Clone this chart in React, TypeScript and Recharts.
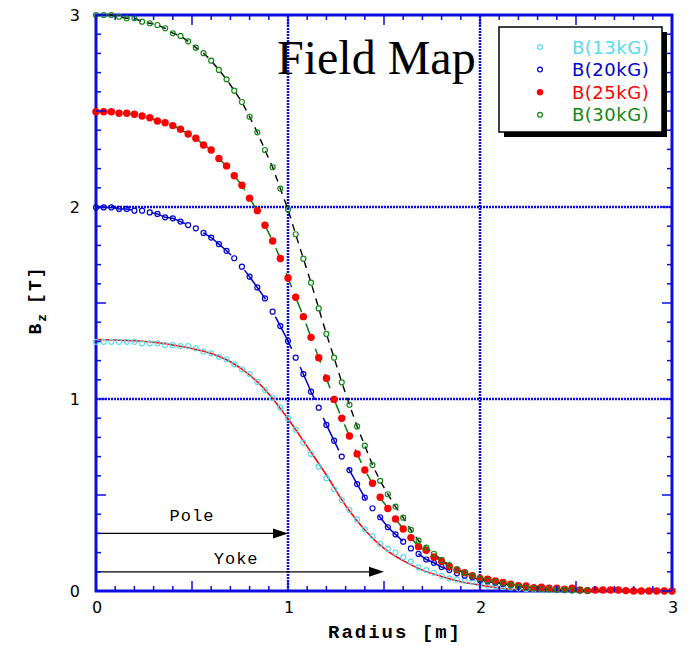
import React from 'react'
import {
	ComposedChart,
	Line,
	Scatter,
	XAxis,
	YAxis,
	ReferenceLine,
	ReferenceArea
} from 'recharts'

// radius grid of the measured points [m]
const R = [
	0, 0.04, 0.08, 0.12, 0.16, 0.2, 0.24, 0.28, 0.32, 0.36, 0.4, 0.44, 0.48, 0.52, 0.56, 0.6, 0.64, 0.68,
	0.72, 0.76, 0.8, 0.84, 0.88, 0.92, 0.96, 1.0, 1.04, 1.08, 1.12, 1.16, 1.2, 1.24, 1.28, 1.32, 1.36, 1.4,
	1.44, 1.48, 1.52, 1.56, 1.6, 1.64, 1.68, 1.72, 1.76, 1.8, 1.84, 1.88, 1.92, 1.96, 2.0, 2.04, 2.08, 2.12,
	2.16, 2.2, 2.24, 2.28, 2.32, 2.36, 2.4, 2.44, 2.48, 2.52, 2.56, 2.6, 2.64, 2.68, 2.72, 2.76, 2.8, 2.84,
	2.88, 2.92, 2.96, 3.0
]

const B13 = [
	1.298, 1.298, 1.298, 1.298, 1.298, 1.298, 1.29, 1.29, 1.29, 1.281, 1.281, 1.276, 1.276, 1.264, 1.247,
	1.238, 1.22, 1.207, 1.181, 1.155, 1.13, 1.089, 1.047, 1.005, 0.955, 0.899, 0.84, 0.773, 0.714, 0.648,
	0.587, 0.53, 0.474, 0.422, 0.373, 0.321, 0.286, 0.245, 0.219, 0.2, 0.176, 0.153, 0.123, 0.109, 0.095,
	0.079, 0.066, 0.06, 0.053, 0.048, 0.04, 0.028, 0.026, 0.021, 0.017, 0.014, 0.011, 0.009, 0.007, 0.005,
	0.004, 0.003, 0.002, 0.002, 0.001
]

const B20 = [
	1.998, 1.998, 1.998, 1.99, 1.99, 1.981, 1.981, 1.972, 1.964, 1.946, 1.941, 1.924, 1.906, 1.889, 1.865,
	1.841, 1.807, 1.772, 1.733, 1.689, 1.637, 1.581, 1.524, 1.455, 1.38, 1.302, 1.215, 1.13, 1.038, 0.955,
	0.865, 0.783, 0.7, 0.63, 0.557, 0.486, 0.431, 0.384, 0.332, 0.295, 0.257, 0.222, 0.193, 0.164, 0.147,
	0.125, 0.109, 0.092, 0.08, 0.071, 0.057, 0.05, 0.043, 0.036, 0.03, 0.025, 0.02, 0.016, 0.013, 0.01,
	0.008, 0.006, 0.005, 0.004, 0.003
]

const B25 = [
	2.496, 2.496, 2.496, 2.488, 2.488, 2.483, 2.474, 2.465, 2.448, 2.439, 2.424, 2.405, 2.38, 2.358, 2.323,
	2.297, 2.253, 2.214, 2.163, 2.113, 2.046, 1.981, 1.905, 1.823, 1.732, 1.63, 1.53, 1.429, 1.321, 1.215,
	1.108, 0.998, 0.9, 0.807, 0.714, 0.63, 0.561, 0.488, 0.43, 0.375, 0.323, 0.278, 0.231, 0.212, 0.177,
	0.155, 0.128, 0.11, 0.095, 0.08, 0.065, 0.062, 0.052, 0.045, 0.036, 0.028, 0.026, 0.017, 0.02, 0.014,
	0.014, 0.01, 0.014, 0.005, 0.002, 0.005, 0.005, 0.005, 0.005, 0.002, 0, 0, 0, 0, 0, 0
]

const B30 = [
	3.0, 3.0, 3.0, 2.991, 2.983, 2.983, 2.965, 2.957, 2.948, 2.931, 2.905, 2.891, 2.863, 2.83, 2.801, 2.762,
	2.714, 2.665, 2.606, 2.547, 2.47, 2.389, 2.297, 2.207, 2.096, 1.987, 1.858, 1.731, 1.606, 1.472, 1.339,
	1.215, 1.087, 0.97, 0.857, 0.757, 0.656, 0.574, 0.504, 0.439, 0.382, 0.318, 0.262, 0.226, 0.194, 0.162,
	0.135, 0.113, 0.095, 0.078, 0.063, 0.054, 0.048, 0.04, 0.031, 0.022, 0.017, 0.014, 0.009, 0.008, 0.007,
	0.006, 0.004, 0.004, 0.003
]

// smooth fit drawn for the 13 kG case
const FIT_R = [
	0, 0.1, 0.2, 0.3, 0.4, 0.5, 0.6, 0.7, 0.8, 0.9, 1.0, 1.1, 1.2, 1.3, 1.4, 1.5, 1.6, 1.7, 1.8, 1.9, 2.0,
	2.1, 2.2, 2.3, 2.4
]
const FIT13 = [
	1.31, 1.307, 1.303, 1.295, 1.281, 1.263, 1.237, 1.194, 1.125, 1.026, 0.897, 0.752, 0.604, 0.445, 0.318,
	0.222, 0.158, 0.109, 0.076, 0.048, 0.031, 0.016, 0.006, 0.002, 0
]

const TICKS = [
	0, 0.1, 0.2, 0.3, 0.4, 0.5, 0.6, 0.7, 0.8, 0.9, 1, 1.1, 1.2, 1.3, 1.4, 1.5, 1.6, 1.7, 1.8, 1.9, 2, 2.1,
	2.2, 2.3, 2.4, 2.5, 2.6, 2.7, 2.8, 2.9, 3
]
const GRID = [1, 2]

const ARROWS = [
	{ name: 'Pole', from: 0, to: 1, at: 0.3, labelAt: 0.5, labelUp: 12 },
	{ name: 'Yoke', from: 0, to: 1.5, at: 0.1, labelAt: 0.73, labelUp: 8 }
]

const LEGEND = [
	{ name: 'B(13kG)', color: '#55dcf0', filled: false },
	{ name: 'B(20kG)', color: '#0000cc', filled: false },
	{ name: 'B(25kG)', color: '#ff0000', filled: true },
	{ name: 'B(30kG)', color: '#118811', filled: false }
]

const W = 693
const H = 646
const PLOT_W = 576
const PLOT_H = 576
const AXIS = '#0c0cdc'

const toPoints = (xs: number[], ys: number[]) => ys.map((b, i) => ({ r: xs[i], b }))

const p13 = toPoints(R, B13)
const p20 = toPoints(R, B20)
const p25 = toPoints(R, B25)
const p30 = toPoints(R, B30)
const fit13 = toPoints(FIT_R, FIT13)

const isMajor = (v: number) => Math.abs(v * 2 - Math.round(v * 2)) < 1e-6
const isInt = (v: number) => Math.abs(v - Math.round(v)) < 1e-6

const XTick = ({ x, y, payload }: any) => {
	const v = payload.value
	const len = isMajor(v) ? 10 : 5
	return (
		<g>
			<line x1={x} x2={x} y1={y} y2={y - len} stroke={AXIS} strokeWidth={1.5} />
			<line x1={x} x2={x} y1={y - PLOT_H} y2={y - PLOT_H + len} stroke={AXIS} strokeWidth={1.5} />
			{isInt(v) && (
				<text x={x + 1} y={y + 22} textAnchor="middle" fontSize={16} fontFamily="DejaVu Sans" fill="#000">
					{Math.round(v)}
				</text>
			)}
		</g>
	)
}

const YTick = ({ x, y, payload }: any) => {
	const v = payload.value
	const len = isMajor(v) ? 10 : 5
	return (
		<g>
			<line x1={x} x2={x + len} y1={y} y2={y} stroke={AXIS} strokeWidth={1.5} />
			<line x1={x + PLOT_W} x2={x + PLOT_W - len} y1={y} y2={y} stroke={AXIS} strokeWidth={1.5} />
			{isInt(v) && (
				<text x={x - 16} y={y + 6} textAnchor="end" fontSize={16} fontFamily="DejaVu Sans" fill="#000">
					{Math.round(v)}
				</text>
			)}
		</g>
	)
}

const openDot = (color: string) => (props: any) => (
	<circle cx={props.cx} cy={props.cy} r={2.5} fill="none" stroke={color} strokeWidth={1.2} />
)
const fullDot = (color: string) => (props: any) => (
	<circle cx={props.cx} cy={props.cy} r={3.7} fill={color} />
)

const arrowShape = (a: (typeof ARROWS)[number]) => (props: any) => {
	const { x1, y1, x2, y2 } = props
	const lx = x1 + ((x2 - x1) * (a.labelAt - a.from)) / (a.to - a.from)
	return (
		<g>
			<line x1={x1} y1={y1} x2={x2 - 12} y2={y2} stroke="#000" strokeWidth={1.2} />
			<polygon points={`${x2},${y2} ${x2 - 15},${y2 - 5} ${x2 - 15},${y2 + 5}`} fill="#000" />
			<text
				x={lx}
				y={y1 - a.labelUp}
				textAnchor="middle"
				fontSize={17}
				fontFamily="Liberation Mono"
				letterSpacing={1}
				fill="#000"
			>
				{a.name}
			</text>
		</g>
	)
}

export default function App() {
	return (
		<div style={{ position: 'absolute', left: 0, top: 0, width: W, height: H, background: '#fff' }}>
			<ComposedChart
				width={W}
				height={H}
				margin={{ top: 15, right: 21, bottom: 25, left: 36 }}
			>
				<XAxis
					dataKey="r"
					type="number"
					domain={[0, 3]}
					ticks={TICKS}
					interval={0}
					height={30}
					tickSize={0}
					tickMargin={0}
					axisLine={false}
					tick={<XTick />}
				/>
				<YAxis
					type="number"
					domain={[0, 3]}
					ticks={TICKS}
					interval={0}
					width={60}
					tickSize={0}
					tickMargin={0}
					axisLine={false}
					tick={<YTick />}
				/>

				{GRID.map((g) => (
					<ReferenceLine key={`x${g}`} x={g} stroke={AXIS} strokeWidth={2.5} strokeDasharray="2 1" />
				))}
				{GRID.map((g) => (
					<ReferenceLine key={`y${g}`} y={g} stroke={AXIS} strokeWidth={2.5} strokeDasharray="2 1" />
				))}
				<ReferenceArea x1={0} x2={3} y1={0} y2={3} fill="none" stroke={AXIS} strokeWidth={3} />

				{ARROWS.map((a) => (
					<ReferenceLine
						key={a.name}
						segment={[
							{ x: a.from, y: a.at },
							{ x: a.to, y: a.at }
						]}
						shape={arrowShape(a)}
					/>
				))}

				<Scatter data={p13} dataKey="b" shape={openDot('#55dcf0')} isAnimationActive={false} />
				<Line
					data={fit13}
					dataKey="b"
					type="monotone"
					stroke="#ff0000"
					strokeWidth={1.5}
					dot={false}
					isAnimationActive={false}
				/>

				<Scatter data={p20} dataKey="b" shape={openDot('#0000cc')} isAnimationActive={false} />
				<Line
					data={p20}
					dataKey="b"
					type="linear"
					stroke="#0000cc"
					strokeWidth={1.5}
					strokeDasharray="36 20"
					dot={false}
					isAnimationActive={false}
				/>

				<Scatter data={p25} dataKey="b" shape={fullDot('#ff0000')} isAnimationActive={false} />
				<Line
					data={p25}
					dataKey="b"
					type="linear"
					stroke="#117711"
					strokeWidth={1.5}
					strokeDasharray="15 12"
					dot={false}
					isAnimationActive={false}
				/>

				<Scatter data={p30} dataKey="b" shape={openDot('#118811')} isAnimationActive={false} />
				<Line
					data={p30}
					dataKey="b"
					type="linear"
					stroke="#000"
					strokeWidth={1.4}
					strokeDasharray="7 6"
					dot={false}
					isAnimationActive={false}
				/>
			</ComposedChart>

			<svg
				width={W}
				height={H}
				style={{ position: 'absolute', left: 0, top: 0, pointerEvents: 'none' }}
			>
				<text x={277} y={74} fontSize={48} fontFamily="Liberation Serif" fill="#000">
					Field Map
				</text>

				<rect x={504} y={32} width={163} height={105} fill="#000" />
				<rect x={499} y={27} width={163} height={105} fill="#fff" stroke="#000" strokeWidth={1.5} />
				{LEGEND.map((l, i) => (
					<g key={l.name}>
						{l.filled ? (
							<circle cx={540} cy={47 + i * 22.6} r={3.2} fill={l.color} />
						) : (
							<circle cx={540} cy={47 + i * 22.6} r={2.4} fill="none" stroke={l.color} strokeWidth={1.2} />
						)}
						<text
							x={572}
							y={53.5 + i * 22.6}
							fontSize={18}
							fontFamily="DejaVu Sans"
							letterSpacing={0.5}
							fill={l.color}
						>
							{l.name}
						</text>
					</g>
				))}

				<text
					x={395}
					y={638}
					textAnchor="middle"
					fontSize={19}
					fontWeight="bold"
					fontFamily="Liberation Mono"
					letterSpacing={2}
					fill="#000"
				>
					Radius [m]
				</text>

				<text
					transform="translate(41,300) rotate(-90)"
					textAnchor="middle"
					fontSize={18}
					fontWeight="bold"
					fontFamily="Liberation Mono"
					letterSpacing={2}
					fill="#000"
				>
					B
					<tspan fontSize={13} dy={5}>z</tspan>
					<tspan dy={-5} dx={8}>[T]</tspan>
				</text>
			</svg>
		</div>
	)
}
